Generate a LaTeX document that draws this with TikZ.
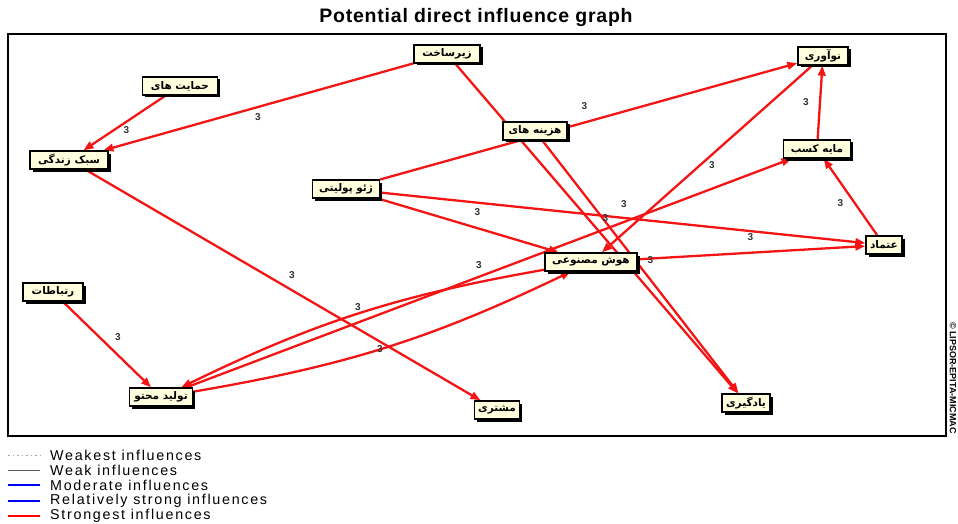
\documentclass[tikz,border=0pt]{standalone}
\usepackage{fontspec}
\setmainfont{Liberation Sans}
\newfontfamily\fafont[Script=Arabic]{DejaVu Sans}
\newfontfamily\legendfont[LetterSpace=12]{Liberation Sans}
\newfontfamily\titlefont[LetterSpace=4]{Liberation Sans}
\TeXXeTstate=1
\usetikzlibrary{arrows.meta,shadows,calc}
\pgfdeclarelayer{edges}
\pgfsetlayers{edges,main}
\definecolor{nodefill}{RGB}{255,255,222}
\definecolor{edgered}{RGB}{245,20,20}
\newcommand\falabel[1]{{\fafont\bfseries\beginR #1\endR}}
\begin{document}
\begin{tikzpicture}[x=1pt,y=-1pt,
  box/.style={draw=black, line width=1.3pt, fill=nodefill,
    drop shadow={shadow xshift=2.5pt, shadow yshift=-2.5pt, fill=black, opacity=1},
    inner sep=1.5pt, minimum height=18pt, font=\fontsize{10.5}{11}\selectfont},
  infl/.style={draw=edgered, line width=2.3pt, -{Triangle[length=10pt,width=7.5pt]}},
  lbl/.style={font=\fontsize{10}{11}\selectfont\bfseries, text=black!80, inner sep=0pt},
  legtext/.style={anchor=west, font=\legendfont\fontsize{14.3}{15}\selectfont, inner sep=0pt}
]
\useasboundingbox (0,0) rectangle (958,524);
\node[font=\titlefont\fontsize{19.5}{21}\selectfont\bfseries] (title) at (476,18) {Potential direct influence graph};
\draw[line width=1.3pt] (8,34) rectangle (946,436);
\node[rotate=-90, font=\fontsize{9}{10}\selectfont\bfseries, inner sep=0pt] (copy) at (953,378) {© LIPSOR-EPITA-MICMAC};

% nodes
\node[box, minimum width=75pt] (hemayat) at (180,86) {\falabel{حمایت های}};
\node[box, minimum width=78pt] (sabk) at (69,160) {\falabel{سبک زندگی}};
\node[box, minimum width=66pt] (zir) at (447,54) {\falabel{زیرساخت}};
\node[box, minimum width=64pt] (hazine) at (535,131) {\falabel{هزینه های}};
\node[box, minimum width=50pt] (noavari) at (823,56) {\falabel{نوآوری}};
\node[box, minimum width=67pt] (sarmaye) at (817,149) {\falabel{مایه کسب}};
\node[box, minimum width=67pt] (geo) at (346,189) {\falabel{ژئو پولیتی}};
\node[box, minimum width=92pt] (hoosh) at (591,262) {\falabel{هوش مصنوعی}};
\node[box, minimum width=36pt] (etemad) at (884,245) {\falabel{عتماد}};
\node[box, minimum width=60pt] (ertebat) at (53,292) {\falabel{رتباطات}};
\node[box, minimum width=63pt] (tolid) at (161,397) {\falabel{تولید محتو}};
\node[box, minimum width=45pt] (moshtari) at (497,410) {\falabel{مشتری}};
\node[box, minimum width=48pt] (yadgiri) at (746,403) {\falabel{یادگیری}};

% influences
\begin{pgfonlayer}{edges}
\draw[infl] (hemayat) -- (sabk);
\draw[infl] (zir) -- (sabk);
\draw[infl] (zir) -- (yadgiri);
\draw[infl] (hazine) -- (yadgiri);
\draw[infl] (geo) -- (noavari);
\draw[infl] (sabk) -- (moshtari);
\draw[infl] (geo) -- (etemad);
\draw[infl] (geo) -- (hoosh);
\draw[infl] (hoosh) -- (etemad);
\draw[infl] (etemad) -- (sarmaye);
\draw[infl] (sarmaye) -- (noavari);
\draw[infl] (noavari) -- (hoosh);
\draw[infl] (tolid) -- (sarmaye);
\draw[infl] (tolid) to[bend right=8] (hoosh);
\draw[infl] (hoosh) to[bend right=8] (tolid);
\draw[infl] (ertebat) -- (tolid);
\end{pgfonlayer}

% labels
\node[lbl] at ($(hemayat)!.5!(sabk)+(2,7)$) {3};
\node[lbl] at ($(zir)!.5!(sabk)+(0,10)$) {3};
\node[lbl] at ($(zir)!.5!(yadgiri)+(9,-10)$) {3};
\node[lbl] at ($(hazine)!.5!(yadgiri)+(10,-7)$) {3};
\node[lbl] at ($(geo)!.5!(noavari)+(0,-16)$) {3};
\node[lbl] at ($(sabk)!.5!(moshtari)+(9,-10)$) {3};
\node[lbl] at ($(geo)!.5!(etemad)+(9,-13)$) {3};
\node[lbl] at ($(geo)!.5!(hoosh)+(9,-13)$) {3};
\node[lbl] at ($(hoosh)!.5!(etemad)+(13,-16)$) {3};
\node[lbl] at ($(etemad)!.5!(sarmaye)+(-10,6)$) {3};
\node[lbl] at ($(sarmaye)!.5!(noavari)+(-14,0)$) {3};
\node[lbl] at ($(noavari)!.5!(hoosh)+(5,6)$) {3};
\node[lbl] at ($(tolid)!.5!(sarmaye)+(-10,-8)$) {3};
\node[lbl] at ($(tolid)!.5!(hoosh)+(-18,-22)$) {3};
\node[lbl] at ($(tolid)!.5!(hoosh)+(4,20)$) {3};
\node[lbl] at ($(ertebat)!.5!(tolid)+(11,-7)$) {3};

% legend
\coordinate (l1a) at (8,455); \coordinate (l1b) at (40,455);
\coordinate (l2a) at (8,470); \coordinate (l2b) at (40,470);
\coordinate (l3a) at (8,485); \coordinate (l3b) at (40,485);
\coordinate (l4a) at (8,501); \coordinate (l4b) at (40,501);
\coordinate (l5a) at (8,516); \coordinate (l5b) at (40,516);
\draw[gray!70, line width=0.8pt, dash pattern=on 1.5pt off 3pt] (l1a) -- (l1b);
\draw[black!65, line width=1pt] (l2a) -- (l2b);
\draw[blue, line width=1.2pt] (l3a) -- (l3b);
\draw[blue, line width=2.4pt] (l4a) -- (l4b);
\draw[red, line width=2.4pt] (l5a) -- (l5b);
\node[legtext] (t1) at (50,455) {Weakest influences};
\node[legtext] (t2) at (50,470) {Weak influences};
\node[legtext] (t3) at (50,485) {Moderate influences};
\node[legtext] (t4) at (50,501) {Relatively strong influences};
\node[legtext] (t5) at (50,516) {Strongest influences};
\end{tikzpicture}
\end{document}
